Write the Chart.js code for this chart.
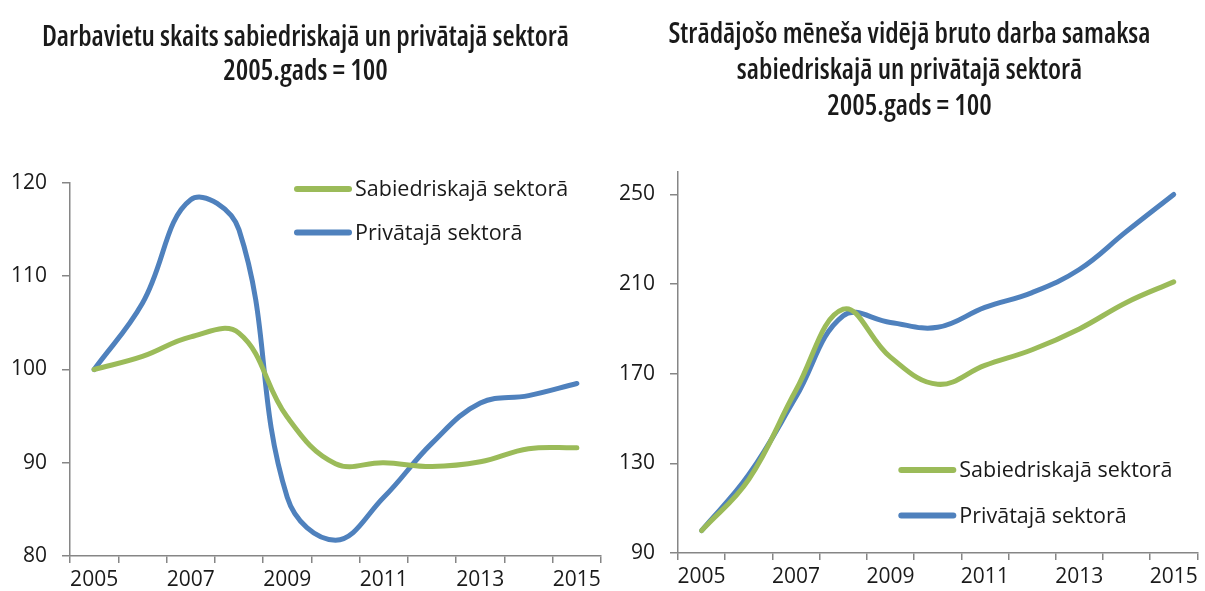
<!DOCTYPE html>
<html>
<head>
<meta charset="utf-8">
<script src="https://cdn.jsdelivr.net/npm/chart.js@4/dist/chart.umd.min.js"></script>
<style>
  body { margin: 0; background: #fff; }
  #wrap { position: relative; width: 1205px; height: 591px; }
  .box { position: absolute; top: 0; height: 591px; }
  #left { left: 0; width: 620px; }
  #right { left: 620px; width: 585px; }
</style>
</head>
<body>
<div id="wrap">
  <div class="box" id="left"><canvas id="jobsChart"></canvas></div>
  <div class="box" id="right"><canvas id="wageChart"></canvas></div>
</div>
<script>
const years = ['2005', '2006', '2007', '2008', '2009', '2010', '2011', '2012', '2013', '2014', '2015'];

const jobsPublic = [100, 101.4, 103.5, 103.9, 94.9, 89.9, 90.0, 89.6, 90.1, 91.5, 91.6];
const jobsPrivate = [100, 107.1, 118.2, 115.0, 86.3, 81.7, 86.3, 92.1, 96.4, 97.2, 98.5];
const jobsTicks = [80, 90, 100, 110, 120];

const wagePublic = [100, 122.9, 162.7, 198.8, 177.4, 165.3, 173.7, 180.7, 190.0, 201.8, 211.0];
const wagePrivate = [100, 125.0, 159.7, 195.9, 192.9, 190.7, 199.6, 206.2, 216.5, 233.5, 250.0];
const wageTicks = [90, 130, 170, 210, 250];

const seriesNames = ['Sabiedriskajā sektorā', 'Privātajā sektorā'];
const jobsTitle = ['Darbavietu skaits sabiedriskajā un privātajā sektorā', '2005.gads = 100'];
const wageTitle = ['Strādājošo mēneša vidējā bruto darba samaksa', 'sabiedriskajā un privātajā sektorā', '2005.gads = 100'];

const GREEN = '#9bbb59';
const BLUE = '#4f81bd';
const AXIS = '#868686';
const TEXT = '#1a1a1a';
const tickFont = { family: "'Open Sans', 'Noto Sans', sans-serif", size: 21 };
const legendFont = "21.5px 'Open Sans', 'Noto Sans', sans-serif";

// legend drawn inside the plot area, like the original
const insideLegend = {
  id: 'insideLegend',
  afterDraw(chart, args, opts) {
    const { ctx, chartArea } = chart;
    const x = chartArea.right - opts.fromRight;
    let y = opts.fromTop != null ? chartArea.top + opts.fromTop : chartArea.bottom - opts.fromBottom;
    ctx.save();
    ctx.font = legendFont;
    ctx.textBaseline = 'middle';
    chart.data.datasets.forEach((ds) => {
      ctx.strokeStyle = ds.borderColor;
      ctx.lineWidth = 6;
      ctx.lineCap = 'round';
      ctx.beginPath();
      ctx.moveTo(x, y);
      ctx.lineTo(x + 52, y);
      ctx.stroke();
      ctx.fillStyle = TEXT;
      ctx.fillText(ds.label, x + 58, y + 1);
      y += opts.gap;
    });
    ctx.restore();
  },
};

const makeChart = (id, title, lineHeight, titlePad, pub, priv, tickValues, yMax, legendOpts, axisWidth, pad) => {
  return new Chart(id, {
    type: 'line',
    data: {
      labels: years,
      datasets: [
        { label: seriesNames[0], data: pub, borderColor: GREEN },
        { label: seriesNames[1], data: priv, borderColor: BLUE },
      ],
    },
    options: {
      responsive: true,
      maintainAspectRatio: false,
      animation: false,
      layout: { padding: pad },
      elements: {
        line: { borderWidth: 5, tension: 0.4, borderCapStyle: 'round' },
        point: { radius: 0 },
      },
      plugins: {
        legend: { display: false },
        tooltip: { enabled: false },
        title: {
          display: true,
          text: title,
          color: TEXT,
          font: { family: "'Open Sans', sans-serif", size: 28, weight: 'condensed 600', lineHeight: lineHeight },
          padding: titlePad,
        },
        insideLegend: legendOpts,
      },
      scales: {
        x: {
          offset: true,
          border: { color: AXIS, width: 1.5 },
          grid: { offset: true, drawOnChartArea: false, drawTicks: true, tickLength: 7, color: AXIS, lineWidth: 1.5 },
          ticks: {
            color: TEXT,
            font: Object.assign({ lineHeight: 1 }, tickFont),
            maxRotation: 0,
            autoSkip: false,
            padding: 7,
            callback(value, index) {
              return index % 2 === 0 ? this.getLabelForValue(value) : '';
            },
          },
        },
        y: {
          min: tickValues[0],
          max: yMax,
          border: { color: AXIS, width: 1.5 },
          grid: { drawOnChartArea: false, drawTicks: true, tickLength: 8, color: AXIS, lineWidth: 1.5 },
          ticks: { color: TEXT, font: tickFont, padding: 15 },
          afterBuildTicks(scale) { scale.ticks = tickValues.map((v) => ({ value: v })); },
          afterFit(scale) { scale.width = axisWidth; },
        },
      },
    },
    plugins: [insideLegend],
  });
};

makeChart('jobsChart', jobsTitle, 1.214, { top: 21, bottom: 94 }, jobsPublic, jobsPrivate, jobsTicks, 120,
  { fromRight: 304, fromTop: 6, gap: 43.5 }, 60, { left: 10, right: 19, top: 0, bottom: -7 });

makeChart('wageChart', wageTitle, 1.286, { top: 17, bottom: 47 }, wagePublic, wagePrivate, wageTicks, 260,
  { fromRight: 296, fromBottom: 83, gap: 45.5 }, 58, { left: 0, right: 6, top: 0, bottom: -4 });
</script>
</body>
</html>
